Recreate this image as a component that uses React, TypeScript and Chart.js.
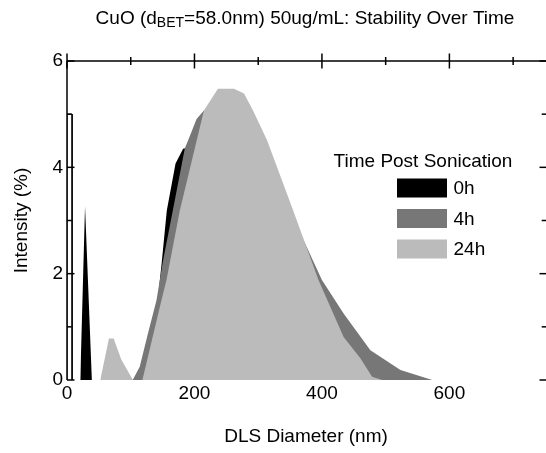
import { useEffect, useRef } from 'react';
import { Chart, registerables } from 'chart.js';

Chart.register(...registerables);

const FONT = '"Liberation Sans", Arial, Helvetica, sans-serif';

// ---- data ----
const seriesLabels = ['0h', '4h', '24h'];
const seriesColors = ['#000000', '#777777', '#bbbbbb'];

const diam0h = [20.8, 28.3, 39.0, 122.0, 133.0, 142.4, 148.7, 156.6, 170.3, 182.2, 192.8, 250, 300, 350, 400, 450, 500, 530];
const int0h = [0, 3.27, 0, 0, 0.75, 1.5, 2.22, 3.19, 4.07, 4.35, 4.38, 4.2, 3.8, 2.8, 1.5, 0.55, 0.1, 0];

const diam4h = [103.1, 114.1, 127.1, 140.4, 150.3, 166.0, 184.9, 190.1, 203.3, 214.8, 240, 265, 290, 320, 355, 400.0, 434.0, 476.0, 523.2, 573.1];
const int4h = [0, 0.25, 0.88, 1.5, 2.22, 3.19, 4.36, 4.51, 4.91, 5.07, 5.3, 5.35, 5.0, 4.2, 3.05, 1.88, 1.25, 0.56, 0.19, 0];

const diam24h = [52.2, 65.8, 73.2, 85.3, 103.5, 118.3, 148.2, 156.1, 177.0, 214.8, 236.8, 262.0, 277.7, 291.9, 313.9, 354.9, 394.6, 434.0, 460.3, 478.7, 494.4];
const int24h = [0, 0.78, 0.78, 0.38, 0, 0, 1.5, 1.88, 3.19, 5.07, 5.48, 5.48, 5.39, 5.07, 4.51, 3.19, 1.88, 0.81, 0.41, 0.06, 0];

// thin outlined bar at the left edge
const markerX = [0, 0, 8, 8];
const markerY = [0, 5, 5, 0];

const xLabelTicks = [0, 200, 400, 600];
const xTopMajor = [0, 200, 400, 600];
const xTopMinor = [100, 300, 500, 700];
const yLabelTicks = [0, 2, 4, 6];
const yMinorTicks = [1, 3, 5];

const titleMain1 = 'CuO (d';
const titleSub = 'BET';
const titleMain2 = '=58.0nm) 50ug/mL: Stability Over Time';
const xTitle = 'DLS Diameter (nm)';
const yTitle = 'Intensity (%)';
const legendTitle = 'Time Post Sonication';

const toPoints = (xs: number[], ys: number[]) => xs.map((x, i) => ({ x, y: ys[i] }));

const framePlugin = {
  id: 'framePlugin',
  afterDatasetsDraw(chart: any) {
    const { ctx, chartArea, scales } = chart;
    const { left, top, right, bottom } = chartArea;
    const x = scales.x;
    const y = scales.y;
    const W = chart.width;
    ctx.save();
    ctx.strokeStyle = '#000';
    ctx.lineWidth = 1.5;
    const line = (x1: number, y1: number, x2: number, y2: number) => {
      ctx.beginPath();
      ctx.moveTo(x1, y1);
      ctx.lineTo(x2, y2);
      ctx.stroke();
    };
    line(left, top, left, bottom);
    line(left, top, W, top);
    xTopMajor.forEach((v) => {
      const px = x.getPixelForValue(v);
      line(px, top - 7.5, px, top + 7.5);
    });
    xTopMinor.forEach((v) => {
      const px = x.getPixelForValue(v);
      line(px, top - 4, px, top + 4);
    });
    yLabelTicks.forEach((v) => {
      const py = y.getPixelForValue(v);
      line(left, py, left + 7.5, py);
      line(W - 6.5, py, W, py);
    });
    yMinorTicks.forEach((v) => {
      const py = y.getPixelForValue(v);
      line(left, py, left + 4.7, py);
      line(W - 4.3, py, W, py);
    });
    ctx.restore();
  },
  afterDraw(chart: any) {
    const { ctx } = chart;
    ctx.save();
    ctx.fillStyle = '#000';
    ctx.textBaseline = 'alphabetic';
    // title with subscript
    const mainFont = `19px ${FONT}`;
    const subFont = `14px ${FONT}`;
    ctx.font = mainFont;
    const w1 = ctx.measureText(titleMain1).width;
    const w3 = ctx.measureText(titleMain2).width;
    ctx.font = subFont;
    const w2 = ctx.measureText(titleSub).width;
    const total = w1 + w2 + w3;
    let tx = 305 - total / 2;
    const ty = 24;
    ctx.textAlign = 'left';
    ctx.font = mainFont;
    ctx.fillText(titleMain1, tx, ty);
    tx += w1;
    ctx.font = subFont;
    ctx.fillText(titleSub, tx, ty + 3);
    tx += w2;
    ctx.font = mainFont;
    ctx.fillText(titleMain2, tx, ty);

    // legend
    ctx.font = mainFont;
    ctx.textAlign = 'center';
    ctx.fillText(legendTitle, 423, 167);
    const boxX = 397;
    const boxW = 50;
    const boxH = 19;
    const tops = [178.5, 209, 239.5];
    ctx.textAlign = 'left';
    ctx.textBaseline = 'middle';
    seriesLabels.forEach((lab, i) => {
      ctx.fillStyle = seriesColors[i];
      ctx.fillRect(boxX, tops[i], boxW, boxH);
      ctx.fillStyle = '#000';
      ctx.fillText(lab, boxX + boxW + 6.5, tops[i] + boxH / 2 + 1);
    });
    ctx.restore();
  },
};

export default function App() {
  const canvasRef = useRef<HTMLCanvasElement | null>(null);

  useEffect(() => {
    if (!canvasRef.current) return;
    Chart.defaults.font.family = FONT;
    Chart.defaults.color = '#000';
    const series = [
      { label: seriesLabels[0], data: toPoints(diam0h, int0h), order: 3 },
      { label: seriesLabels[1], data: toPoints(diam4h, int4h), order: 2 },
      { label: seriesLabels[2], data: toPoints(diam24h, int24h), order: 1 },
    ].map((d, i) => ({
      ...d,
      backgroundColor: seriesColors[i],
      borderColor: 'rgba(0,0,0,0)',
      borderWidth: 0,
      fill: 'origin',
      pointRadius: 0,
      tension: 0,
    }));
    const chart = new Chart(canvasRef.current, {
      type: 'line',
      data: {
        datasets: [
          ...series,
          {
            label: 'marker',
            data: toPoints(markerX, markerY),
            backgroundColor: '#ffffff',
            borderColor: '#000000',
            borderWidth: 1,
            fill: 'origin',
            pointRadius: 0,
            tension: 0,
            order: 0,
          },
        ] as any,
      },
      options: {
        animation: false,
        responsive: false,
        layout: { padding: { top: 61, right: 1, left: 0, bottom: 0 } },
        plugins: {
          legend: { display: false },
          title: { display: false },
          tooltip: { enabled: false },
        },
        scales: {
          x: {
            type: 'linear',
            position: 'bottom',
            min: 0,
            max: 750,
            afterBuildTicks: (s: any) => {
              s.ticks = xLabelTicks.map((v) => ({ value: v }));
            },
            afterFit: (s: any) => {
              s.height = 73;
            },
            grid: { display: false, drawTicks: false },
            border: { display: false },
            ticks: { padding: 2, font: { size: 19 }, color: '#000', maxRotation: 0, autoSkip: false },
            title: { display: true, text: xTitle, font: { size: 19 }, color: '#000', padding: { top: 4, bottom: 5 } },
          },
          y: {
            type: 'linear',
            min: 0,
            max: 6,
            afterBuildTicks: (s: any) => {
              s.ticks = yLabelTicks.map((v) => ({ value: v }));
            },
            afterFit: (s: any) => {
              s.width = 67;
            },
            grid: { display: false, drawTicks: false },
            border: { display: false },
            ticks: { padding: 4, font: { size: 19 }, color: '#000' },
            title: { display: true, text: yTitle, font: { size: 19 }, color: '#000', padding: { top: 10, bottom: 0 } },
          },
        },
      } as any,
      plugins: [framePlugin],
    });
    return () => chart.destroy();
  }, []);

  return (
    <div style={{ position: 'absolute', left: 0, top: 0, width: 546, height: 453, background: '#fff' }}>
      <canvas ref={canvasRef} width={546} height={453} style={{ display: 'block' }} />
    </div>
  );
}
